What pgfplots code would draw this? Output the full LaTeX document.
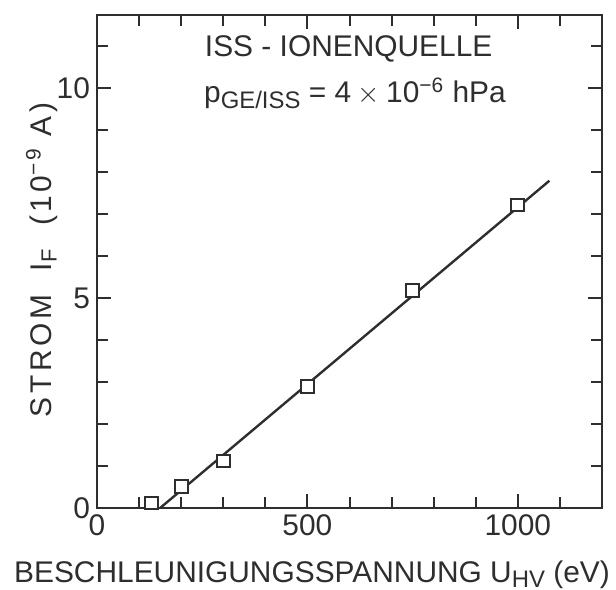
\documentclass[border=0pt]{standalone}
\usepackage{pgfplots}
\pgfplotsset{compat=1.18}
\usepackage{fontspec}
\setmainfont{Liberation Sans}
\definecolor{ink}{HTML}{2E2E2E}

% measured ion current vs. acceleration voltage
\pgfplotstableread{
U    I
130  0.12
200  0.52
300  1.12
500  2.90
750  5.18
1000 7.22
}\measured

\pgfplotstableread{
U    I
150  0.0
1075 7.80
}\fitline

\begin{document}
\begin{tikzpicture}
\useasboundingbox (0,0) rectangle (308bp,295bp);
\begin{axis}[
  at={(48.5bp,41bp)}, anchor=south west,
  scale only axis, width=252.5bp, height=246.5bp,
  xmin=0, xmax=1200, ymin=0, ymax=11.75,
  axis line style={ink, line width=1.1pt},
  xtick={0,500,1000}, minor xtick={100,200,...,1100},
  ytick={0,5,10}, minor ytick={1,2,...,11},
  tick align=inside, tick pos=both,
  major tick length=7bp, minor tick length=5.5bp,
  every tick/.style={ink, line width=1.0pt},
  tick label style={font=\fontsize{15}{17}\selectfont, text=ink},
  /pgf/number format/assume math mode=true,
  /pgf/number format/set thousands separator={},
  clip=false,
]
\addplot[ink, line width=1.2pt] table[x=U, y=I] {\fitline};
\addplot[only marks, mark=square*, mark size=3.2bp,
  mark options={fill=white, draw=ink, line width=1.0pt}] table[x=U, y=I] {\measured};
\node[text=ink, font=\fontsize{15}{17}\selectfont] at (axis cs:598,10.95) {ISS - IONENQUELLE};
\node[text=ink, font=\fontsize{15}{17}\selectfont] at (axis cs:613,9.88)
  {p\raisebox{-0.35ex}{\fontsize{12}{14}\selectfont GE/ISS} = 4${}\times{}$10\textsuperscript{−6} hPa};
\end{axis}
\node[text=ink, font=\fontsize{15}{17}\selectfont, anchor=base] at (156bp,4bp)
  {BESCHLEUNIGUNGSSPANNUNG U\raisebox{-0.35ex}{\fontsize{12}{14}\selectfont HV} (eV)};
\node[text=ink, font=\fontsize{15}{17}\selectfont\addfontfeature{LetterSpace=12}, rotate=90, anchor=base] at (25.5bp,165bp)
  {STROM \ I\raisebox{-0.35ex}{\fontsize{11}{13}\selectfont F} \ (10\textsuperscript{−9} A)};
\end{tikzpicture}
\end{document}
